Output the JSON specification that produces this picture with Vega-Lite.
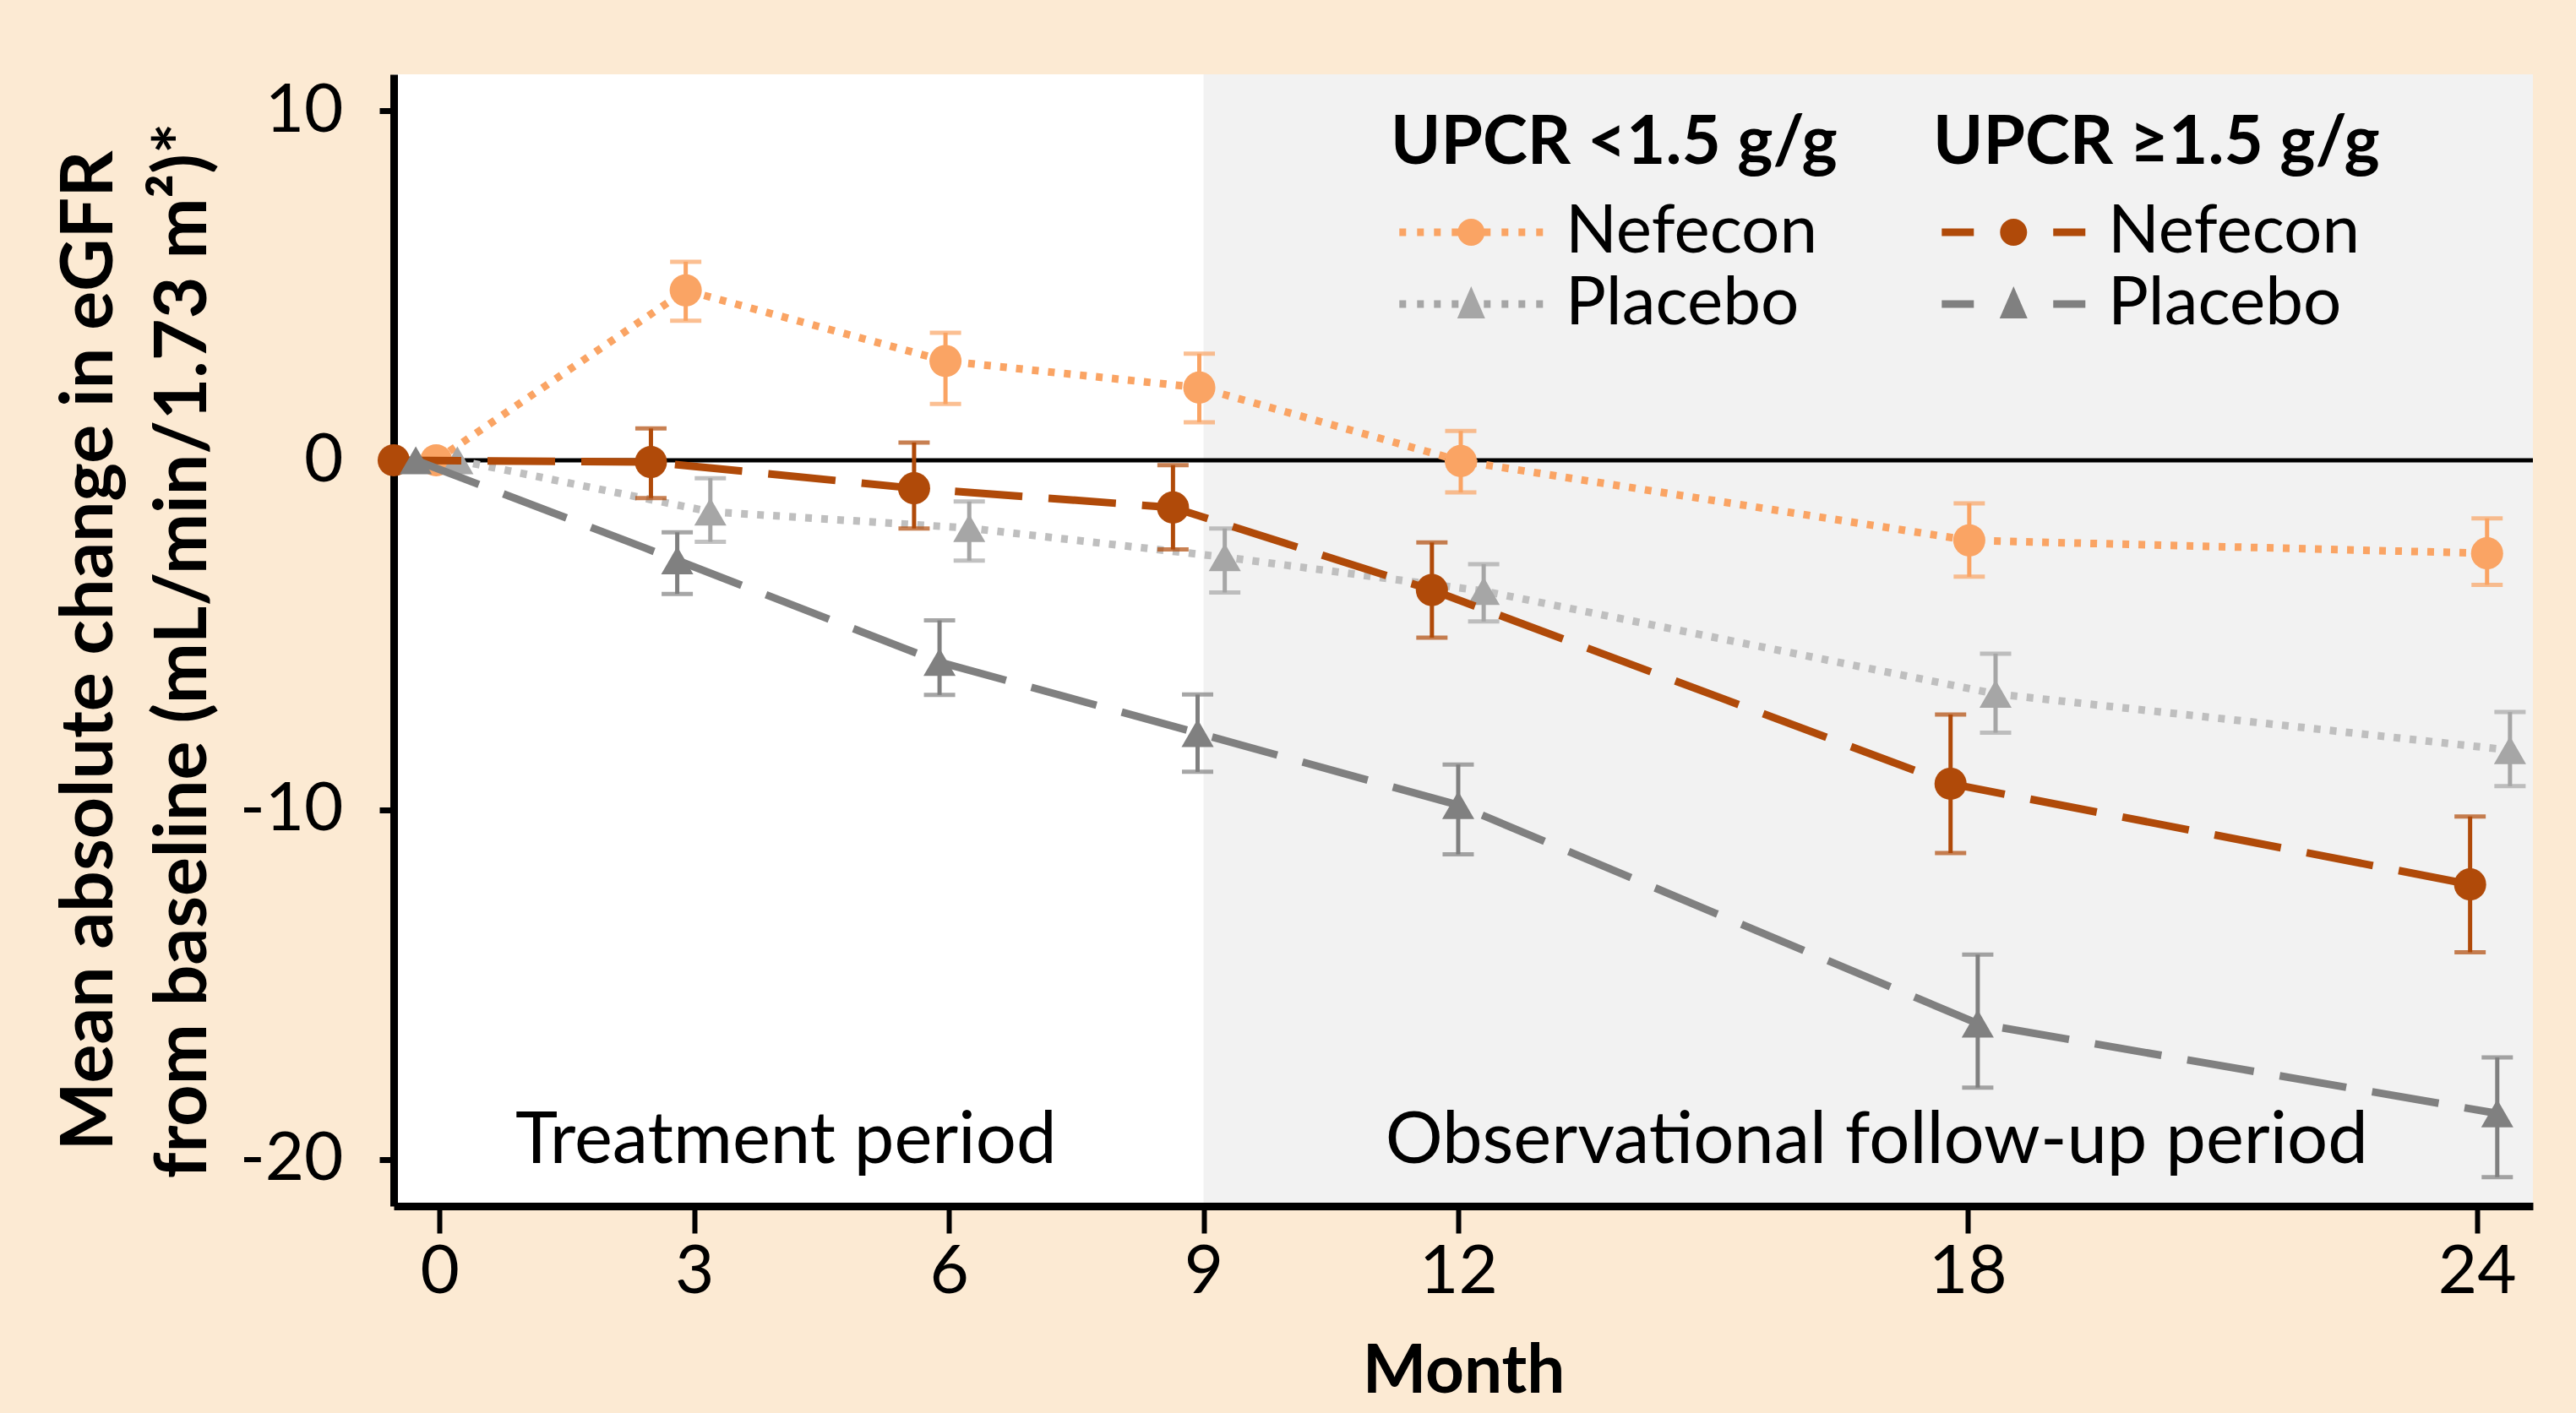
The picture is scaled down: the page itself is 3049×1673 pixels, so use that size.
{
  "$schema": "https://vega.github.io/schema/vega-lite/v6.json",
  "width": 2532,
  "height": 1340,
  "autosize": "none",
  "padding": {"left": 466, "top": 88, "right": 51, "bottom": 245},
  "background": "#FCEAD3",
  "config": {
    "font": "Lato",
    "view": {"fill": "white", "stroke": null}
  },
  "datasets": {
    "g1": [
      {"treatment": "Nefecon", "month": -0.04, "mean": 0, "lo": null, "hi": null},
      {"treatment": "Nefecon", "month": 2.9, "mean": 4.86, "lo": 3.99, "hi": 5.68},
      {"treatment": "Nefecon", "month": 5.96, "mean": 2.84, "lo": 1.61, "hi": 3.65},
      {"treatment": "Nefecon", "month": 8.95, "mean": 2.08, "lo": 1.09, "hi": 3.05},
      {"treatment": "Nefecon", "month": 12.03, "mean": -0.02, "lo": -0.92, "hi": 0.84},
      {"treatment": "Nefecon", "month": 18.02, "mean": -2.29, "lo": -3.33, "hi": -1.23},
      {"treatment": "Nefecon", "month": 24.12, "mean": -2.66, "lo": -3.56, "hi": -1.66},
      {"treatment": "Placebo", "month": 0.21, "mean": 0, "lo": null, "hi": null},
      {"treatment": "Placebo", "month": 3.19, "mean": -1.47, "lo": -2.33, "hi": -0.51},
      {"treatment": "Placebo", "month": 6.24, "mean": -1.94, "lo": -2.87, "hi": -1.18},
      {"treatment": "Placebo", "month": 9.25, "mean": -2.77, "lo": -3.78, "hi": -1.95},
      {"treatment": "Placebo", "month": 12.3, "mean": -3.74, "lo": -4.61, "hi": -2.97},
      {"treatment": "Placebo", "month": 18.33, "mean": -6.68, "lo": -7.79, "hi": -5.53},
      {"treatment": "Placebo", "month": 24.39, "mean": -8.29, "lo": -9.32, "hi": -7.2}
    ],
    "g2": [
      {"treatment": "Nefecon", "month": -0.54, "mean": 0, "lo": null, "hi": null},
      {"treatment": "Nefecon", "month": 2.49, "mean": -0.05, "lo": -1.08, "hi": 0.91},
      {"treatment": "Nefecon", "month": 5.59, "mean": -0.8, "lo": -1.95, "hi": 0.51},
      {"treatment": "Nefecon", "month": 8.64, "mean": -1.35, "lo": -2.55, "hi": -0.14},
      {"treatment": "Nefecon", "month": 11.69, "mean": -3.71, "lo": -5.07, "hi": -2.35},
      {"treatment": "Nefecon", "month": 17.8, "mean": -9.25, "lo": -11.23, "hi": -7.27},
      {"treatment": "Nefecon", "month": 23.92, "mean": -12.13, "lo": -14.07, "hi": -10.19},
      {"treatment": "Placebo", "month": -0.28, "mean": 0, "lo": null, "hi": null},
      {"treatment": "Placebo", "month": 2.8, "mean": -2.86, "lo": -3.82, "hi": -2.06},
      {"treatment": "Placebo", "month": 5.89, "mean": -5.77, "lo": -6.71, "hi": -4.58},
      {"treatment": "Placebo", "month": 8.93, "mean": -7.8, "lo": -8.91, "hi": -6.7},
      {"treatment": "Placebo", "month": 12.0, "mean": -9.86, "lo": -11.27, "hi": -8.7},
      {"treatment": "Placebo", "month": 18.12, "mean": -16.11, "lo": -17.94, "hi": -14.14},
      {"treatment": "Placebo", "month": 24.24, "mean": -18.68, "lo": -20.5, "hi": -17.08}
    ]
  },
  "layer": [
    {
      "data": {"values": [{"start": 9, "end": 24.66, "top": 11.04, "bottom": -21.33}]},
      "mark": {"type": "rect", "color": "#F2F2F2"},
      "encoding": {
        "x": {
          "field": "start", "type": "quantitative",
          "scale": {"domain": [-0.54, 24.66], "nice": false, "zero": false},
          "axis": {
            "title": "Month", "format": "d",
            "values": [0, 3, 6, 9, 12, 18, 24], "grid": false, "zindex": 1,
            "domainColor": "black", "domainWidth": 9,
            "tickColor": "black", "tickWidth": 6, "tickSize": 32,
            "labelFontSize": 80, "labelPadding": 7, "labelColor": "black",
            "titleFontSize": 80, "titleFontWeight": "bold", "titleColor": "black",
            "titleX": 1266, "titleY": 220, "titleBaseline": "alphabetic", "titleAlign": "center"
          }
        },
        "x2": {"field": "end"},
        "y": {
          "field": "top", "type": "quantitative",
          "scale": {"domain": [-21.33, 11.04], "nice": false, "zero": false},
          "axis": {
            "title": "Mean absolute change in eGFR from baseline (mL/min/1.73 m²)*",
            "values": [-20, -10, 0, 10], "grid": false, "zindex": 0,
            "labelExpr": "'' + datum.value",
            "domainColor": "black", "domainWidth": 9,
            "tickColor": "black", "tickWidth": 7, "tickSize": 17,
            "labelFontSize": 80, "labelPadding": 43, "labelColor": "black",
            "titleFontSize": 86, "titleFontWeight": "bold", "titleColor": "black",
            "titleX": -334, "titleY": 682, "titleAngle": -90,
            "titleBaseline": "alphabetic", "titleAlign": "center", "titleLineHeight": 111,
            "encoding": {
              "title": {"text": {"value": ["Mean absolute change in eGFR", "from baseline (mL/min/1.73 m²)*"]}}
            }
          }
        },
        "y2": {"field": "bottom"}
      }
    },
    {
      "data": {"values": [{"ref": 0}]},
      "mark": {"type": "rule", "color": "black", "strokeWidth": 5},
      "encoding": {
        "y": {"field": "ref", "type": "quantitative", "scale": {"domain": [-21.33, 11.04], "nice": false, "zero": false}}
      }
    },
    {
      "data": {"values": [
        {"label": "Treatment period", "month": 4.08, "mean": -20.1},
        {"label": "Observational follow-up period", "month": 16.93, "mean": -20.1}
      ]},
      "mark": {"type": "text", "fontSize": 85, "baseline": "alphabetic", "align": "center", "color": "black"},
      "encoding": {
        "x": {"field": "month", "type": "quantitative", "scale": {"domain": [-0.54, 24.66], "nice": false, "zero": false}},
        "y": {"field": "mean", "type": "quantitative", "scale": {"domain": [-21.33, 11.04], "nice": false, "zero": false}},
        "text": {"field": "label"}
      }
    },
    {
      "data": {"name": "g1"},
      "layer": [
        {
          "mark": {"type": "line", "strokeWidth": 9, "strokeDash": [8, 11]},
          "encoding": {
            "x": {"field": "month", "type": "quantitative", "scale": {"domain": [-0.54, 24.66], "nice": false, "zero": false}},
            "y": {"field": "mean", "type": "quantitative", "scale": {"domain": [-21.33, 11.04], "nice": false, "zero": false}},
            "detail": {"field": "treatment", "type": "nominal"},
            "stroke": {"condition": {"test": "datum.treatment === 'Placebo'", "value": "#BFBFBF"}, "value": "#FAA464"}
          }
        },
        {
          "transform": [{"filter": "isValid(datum.lo)"}],
          "mark": {"type": "errorbar", "thickness": 5, "ticks": {"size": 37, "thickness": 5}},
          "encoding": {
            "x": {"field": "month", "type": "quantitative", "scale": {"domain": [-0.54, 24.66], "nice": false, "zero": false}},
            "y": {"field": "lo", "type": "quantitative", "scale": {"domain": [-21.33, 11.04], "nice": false, "zero": false}},
            "y2": {"field": "hi"},
            "color": {"field": "treatment", "type": "nominal", "scale": {"domain": ["Nefecon", "Placebo"], "range": ["#FAA464", "#A6A6A6"]}}
          }
        },
        {
          "mark": {"type": "point", "filled": true, "size": 1450, "opacity": 1},
          "encoding": {
            "x": {"field": "month", "type": "quantitative", "scale": {"domain": [-0.54, 24.66], "nice": false, "zero": false}},
            "y": {"field": "mean", "type": "quantitative", "scale": {"domain": [-21.33, 11.04], "nice": false, "zero": false}},
            "shape": {"condition": {"test": "datum.treatment === 'Placebo'", "value": "triangle-up"}, "value": "circle"},
            "color": {
              "field": "treatment", "type": "nominal",
              "scale": {"domain": ["Nefecon", "Placebo"], "range": ["#FAA464", "#A6A6A6"]},
              "legend": {
                "title": "UPCR <1.5 g/g", "orient": "none", "legendX": 1180, "legendY": 43, "padding": 0,
                "titleFontSize": 80, "titleFontWeight": "bold", "titleColor": "black", "titlePadding": 24, "titleLimit": 3000,
                "labelFontSize": 80, "labelColor": "black", "labelLimit": 3000, "labelOffset": 127, "rowPadding": 5,
                "symbolSize": 1296, "symbolStrokeWidth": 0, "symbolOpacity": 1,
                "encoding": {
                  "symbols": {
                    "shape": {"value": {"expr": "datum.value === 'Nefecon' ? 'M-1.65,-0.25H-1.206V0.25H-1.65Z M-0.483,-0.25H-0.039V0.25H-0.483Z M0.628,-0.25H1.072V0.25H0.628Z M1.794,-0.25H2.239V0.25H1.794Z M3.906,-0.25H4.35V0.25H3.906Z M5.072,-0.25H5.517V0.25H5.072Z M6.183,-0.25H6.628V0.25H6.183Z M7.35,-0.25H7.794V0.25H7.35Z M3.961,0A0.889,0.889,0,1,1,2.183,0A0.889,0.889,0,1,1,3.961,0Z' : 'M-1.65,-0.25H-1.206V0.25H-1.65Z M-0.483,-0.25H-0.039V0.25H-0.483Z M0.628,-0.25H1.072V0.25H0.628Z M1.794,-0.25H2.239V0.25H1.794Z M3.906,-0.25H4.35V0.25H3.906Z M5.072,-0.25H5.517V0.25H5.072Z M6.183,-0.25H6.628V0.25H6.183Z M7.35,-0.25H7.794V0.25H7.35Z M3.072,-1.167L3.989,0.944L2.155,0.944Z'"}},
                    "fill": {"value": {"expr": "datum.value === 'Nefecon' ? '#FAA464' : '#8C8C8C'"}},
                    "stroke": {"value": "transparent"},
                    "strokeWidth": {"value": 0}
                  }
                }
              }
            }
          }
        }
      ]
    },
    {
      "data": {"name": "g2"},
      "layer": [
        {
          "mark": {"type": "line", "strokeWidth": 9, "strokeDash": [80, 31]},
          "encoding": {
            "x": {"field": "month", "type": "quantitative", "scale": {"domain": [-0.54, 24.66], "nice": false, "zero": false}},
            "y": {"field": "mean", "type": "quantitative", "scale": {"domain": [-21.33, 11.04], "nice": false, "zero": false}},
            "detail": {"field": "treatment", "type": "nominal"},
            "stroke": {"condition": {"test": "datum.treatment === 'Placebo'", "value": "#808080"}, "value": "#B04A09"}
          }
        },
        {
          "transform": [{"filter": "isValid(datum.lo)"}],
          "mark": {"type": "errorbar", "thickness": 5, "ticks": {"size": 37, "thickness": 5}},
          "encoding": {
            "x": {"field": "month", "type": "quantitative", "scale": {"domain": [-0.54, 24.66], "nice": false, "zero": false}},
            "y": {"field": "lo", "type": "quantitative", "scale": {"domain": [-21.33, 11.04], "nice": false, "zero": false}},
            "y2": {"field": "hi"},
            "color": {"field": "treatment", "type": "nominal", "scale": {"domain": ["Nefecon", "Placebo"], "range": ["#B04A09", "#808080"]}}
          }
        },
        {
          "mark": {"type": "point", "filled": true, "size": 1450, "opacity": 1},
          "encoding": {
            "x": {"field": "month", "type": "quantitative", "scale": {"domain": [-0.54, 24.66], "nice": false, "zero": false}},
            "y": {"field": "mean", "type": "quantitative", "scale": {"domain": [-21.33, 11.04], "nice": false, "zero": false}},
            "shape": {"condition": {"test": "datum.treatment === 'Placebo'", "value": "triangle-up"}, "value": "circle"},
            "color": {
              "field": "treatment", "type": "nominal",
              "scale": {"domain": ["Nefecon", "Placebo"], "range": ["#B04A09", "#808080"]},
              "legend": {
                "title": "UPCR ≥1.5 g/g", "orient": "none", "legendX": 1822, "legendY": 43, "padding": 0,
                "titleFontSize": 80, "titleFontWeight": "bold", "titleColor": "black", "titlePadding": 24, "titleLimit": 3000,
                "labelFontSize": 80, "labelColor": "black", "labelLimit": 3000, "labelOffset": 127, "rowPadding": 5,
                "symbolSize": 1296, "symbolStrokeWidth": 0, "symbolOpacity": 1,
                "encoding": {
                  "symbols": {
                    "shape": {"value": {"expr": "datum.value === 'Nefecon' ? 'M-1.65,-0.25H0.46V0.25H-1.65Z M5.68,-0.25H7.794V0.25H5.68Z M3.961,0A0.889,0.889,0,1,1,2.183,0A0.889,0.889,0,1,1,3.961,0Z' : 'M-1.65,-0.25H0.46V0.25H-1.65Z M5.68,-0.25H7.794V0.25H5.68Z M3.072,-1.167L3.989,0.944L2.155,0.944Z'"}},
                    "fill": {"value": {"expr": "datum.value === 'Nefecon' ? '#B04A09' : '#808080'"}},
                    "stroke": {"value": "transparent"},
                    "strokeWidth": {"value": 0}
                  }
                }
              }
            }
          }
        }
      ]
    }
  ],
  "resolve": {
    "scale": {"color": "independent"}
  }
}
